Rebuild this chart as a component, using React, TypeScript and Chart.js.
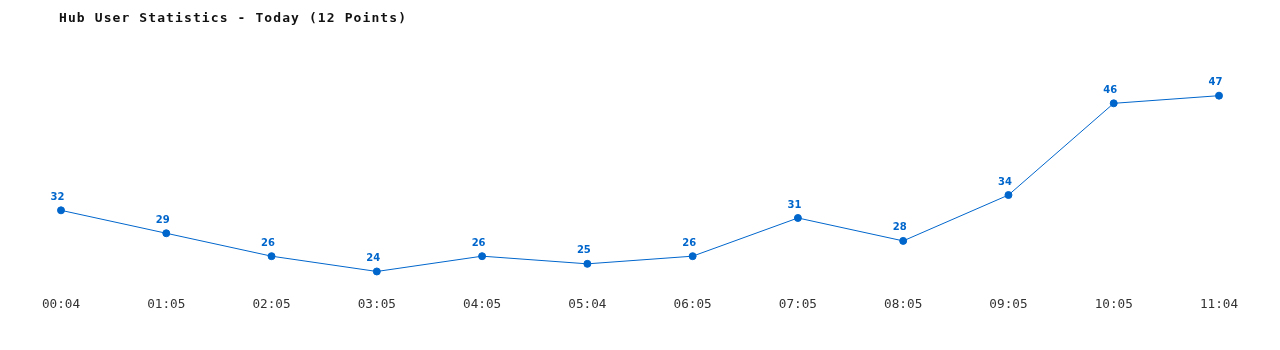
import React, { useEffect, useRef } from "react";
import { Chart, registerables } from "chart.js";

Chart.register(...registerables);

const titleText = "Hub User Statistics - Today (12 Points)";
const categories = ["00:04", "01:05", "02:05", "03:05", "04:05", "05:04", "06:05", "07:05", "08:05", "09:05", "10:05", "11:04"];
const userCounts = [32, 29, 26, 24, 26, 25, 26, 31, 28, 34, 46, 47];

const BLUE = "#0066cc";

const labelPlugin = {
  id: "pointLabels",
  afterDatasetsDraw(chart: any) {
    const ctx = chart.ctx;
    const meta = chart.getDatasetMeta(0);
    const data = chart.data.datasets[0].data;
    ctx.save();
    ctx.font = "bold 10px 'DejaVu Sans'";
    ctx.fillStyle = BLUE;
    ctx.textAlign = "center";
    ctx.textBaseline = "middle";
    meta.data.forEach((pt: any, i: number) => {
      ctx.fillText(String(data[i]), pt.x - 3.5, pt.y - 13);
    });
    ctx.restore();
  },
};

const titlePlugin = {
  id: "monoTitle",
  afterDraw(chart: any) {
    const ctx = chart.ctx;
    ctx.save();
    ctx.font = "bold 13px 'DejaVu Sans Mono'";
    (ctx as any).letterSpacing = "1.1px";
    ctx.fillStyle = "#111";
    ctx.textAlign = "left";
    ctx.textBaseline = "middle";
    ctx.fillText(titleText, 51, 11);
    ctx.restore();
  },
};

export default function App() {
  const ref = useRef<HTMLCanvasElement>(null);
  useEffect(() => {
    if (!ref.current) return;
    const chart = new Chart(ref.current, {
      type: "line",
      data: {
        labels: categories,
        datasets: [
          {
            data: userCounts,
            borderColor: BLUE,
            backgroundColor: BLUE,
            borderWidth: 1,
            pointRadius: 3.5,
            pointHoverRadius: 3.5,
            pointBackgroundColor: BLUE,
            pointBorderColor: BLUE,
            tension: 0,
            fill: false,
          },
        ],
      },
      options: {
        animation: false,
        responsive: true,
        maintainAspectRatio: false,
        layout: { padding: { left: 53, right: 53, top: 64.75, bottom: 20 } },
        plugins: {
          legend: { display: false },
          title: { display: false },
          tooltip: { enabled: false },
        },
        scales: {
          x: {
            offset: false,
            grid: { display: false, drawTicks: false },
            border: { display: false },
            ticks: {
              color: "#333",
              font: { family: "'DejaVu Sans Mono'", size: 12.7 },
              padding: 10,
              maxRotation: 0,
              autoSkip: false,
            },
          },
          y: {
            display: false,
            min: 22,
            max: 50,
          },
        },
      },
      plugins: [labelPlugin, titlePlugin],
    });
    return () => chart.destroy();
  }, []);
  return (
    <div style={{ position: "relative", width: "100%", height: 334 }}>
      <canvas ref={ref} />
    </div>
  );
}
